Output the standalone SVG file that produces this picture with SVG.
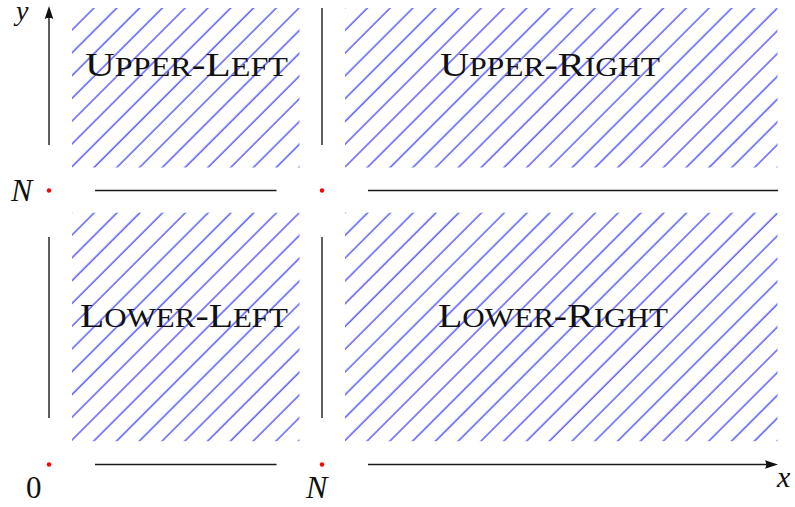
<svg xmlns="http://www.w3.org/2000/svg" width="795" height="507" viewBox="0 0 795 507">
<style>
.ax{stroke:#1a1a1a;stroke-width:1.4;fill:none}
.dot{fill:#ff0000}
.reg{fill:url(#hatch);stroke:none}
.lbl{font-family:"Liberation Serif","Times New Roman",serif;fill:#111}
.big{font-size:34px}
.sm{font-size:26.5px}
.math{font-family:"Liberation Serif","Times New Roman",serif;font-style:italic;fill:#111}
.num{font-family:"Liberation Serif","Times New Roman",serif;fill:#111}
</style>
<defs>
<pattern id="hatch" patternUnits="userSpaceOnUse" width="16.108" height="10" patternTransform="rotate(45)">
<line x1="7.69" y1="-1" x2="7.69" y2="11" stroke="#2020ff" stroke-width="1.1"/>
</pattern>
<marker id="arr" markerUnits="userSpaceOnUse" orient="auto" refX="0" refY="0" markerWidth="20" markerHeight="20" overflow="visible">
<path d="M5,0 L-8,-4.3 Q-5.5,0 -8,4.3 Z" fill="#111"/>
</marker>
</defs>

<g id="upper-left">
<rect class="reg" x="72" y="8" width="227.5" height="159.5"/>
<text class="lbl" x="85" y="76" textLength="203" lengthAdjust="spacingAndGlyphs"><tspan class="big">U</tspan><tspan class="sm">PPER</tspan><tspan class="big">-L</tspan><tspan class="sm">EFT</tspan></text>
</g>
<g id="upper-right">
<rect class="reg" x="345" y="8" width="432.5" height="159.5"/>
<text class="lbl" x="440" y="76" textLength="220" lengthAdjust="spacingAndGlyphs"><tspan class="big">U</tspan><tspan class="sm">PPER</tspan><tspan class="big">-R</tspan><tspan class="sm">IGHT</tspan></text>
</g>
<g id="lower-left">
<rect class="reg" x="72" y="212.7" width="227.5" height="228.5"/>
<text class="lbl" x="80" y="327.3" textLength="208" lengthAdjust="spacingAndGlyphs"><tspan class="big">L</tspan><tspan class="sm">OWER</tspan><tspan class="big">-L</tspan><tspan class="sm">EFT</tspan></text>
</g>
<g id="lower-right">
<rect class="reg" x="345" y="212.7" width="432.5" height="228.5"/>
<text class="lbl" x="438" y="327.3" textLength="230" lengthAdjust="spacingAndGlyphs"><tspan class="big">L</tspan><tspan class="sm">OWER</tspan><tspan class="big">-R</tspan><tspan class="sm">IGHT</tspan></text>
</g>

<g id="connectors">
<line class="ax" x1="49" y1="145" x2="49" y2="11" marker-end="url(#arr)"/>
<line class="ax" x1="49" y1="237" x2="49" y2="418"/>
<line class="ax" x1="322" y1="8" x2="322" y2="145"/>
<line class="ax" x1="322" y1="237" x2="322" y2="418"/>
<line class="ax" x1="95" y1="190.5" x2="276.5" y2="190.5"/>
<line class="ax" x1="368" y1="190.5" x2="778" y2="190.5"/>
<line class="ax" x1="95" y1="464.5" x2="276.5" y2="464.5"/>
<line class="ax" x1="368" y1="464.5" x2="773" y2="464.5" marker-end="url(#arr)"/>
</g>

<g id="points">
<circle class="dot" cx="49" cy="190.5" r="2.2"/>
<circle class="dot" cx="322" cy="190.5" r="2.2"/>
<circle class="dot" cx="49" cy="464.5" r="2.2"/>
<circle class="dot" cx="322" cy="464.5" r="2.2"/>
</g>

<g id="axis-labels">
<text class="math" x="16" y="20" font-size="28">y</text>
<text class="math" x="11" y="201" font-size="32">N</text>
<text class="num" x="26" y="498" font-size="31">0</text>
<text class="math" x="306" y="498" font-size="32">N</text>
<text class="math" x="777" y="487" font-size="30">x</text>
</g>
</svg>
